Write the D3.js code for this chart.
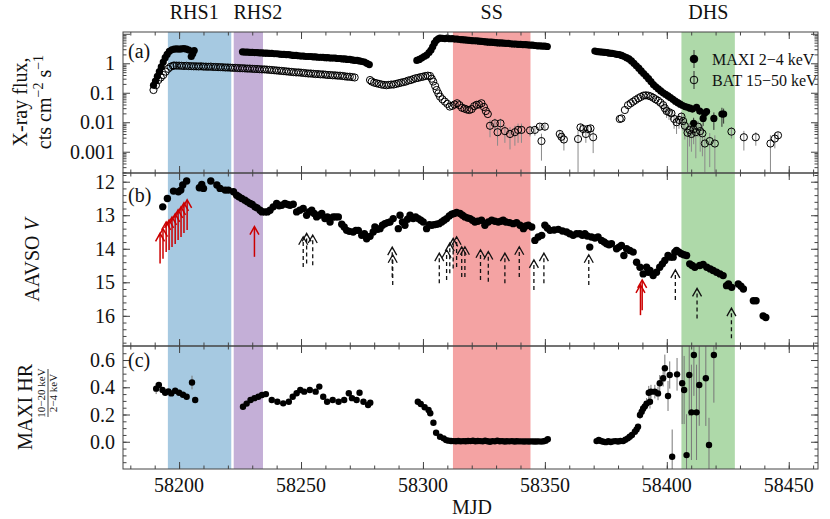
<!DOCTYPE html>
<html>
<head>
<meta charset="utf-8">
<script src="https://cdn.jsdelivr.net/npm/d3@7"></script>
<style>
  body { margin: 0; background: #fff; }
  text { fill: #111; }
</style>
</head>
<body>
<script>
// ---- 数据 ----
// 状态区间
const stateNames = ['RHS1', 'RHS2', 'SS', 'DHS'];
const stateSpans = [[58195.4, 58221.4], [58222.4, 58234.4], [58312.3, 58344.1], [58406.0, 58427.9]];
const stateColors = ['#a6c9e1', '#c4afd7', '#f4a3a3', '#aed9a9'];
const stateLabelMJD = [58206.2, 58232.3, 58328.2, 58417.0];

// MAXI 2-4 keV [MJD, flux, err]
const maxiFlux = [
  [58189.5,0.18],[58190.3,0.25],[58191.1,0.36],[58191.9,0.52],[58192.7,0.75],[58193.5,1.1],[58194.3,1.55],
  [58195.1,2.0],[58196,2.55],[58197,2.85],[58198,3.0],[58199,3.1],[58200,3.0],[58201,3.1],[58202,3.15],
  [58203,3.0],[58204,2.8],[58205,1.7],[58205.6,2.1],[58206.2,2.7],
  [58226,2.45],[58227,2.4],[58228,2.4],[58229,2.35],[58230,2.35],[58231,2.3],[58232,2.3],[58233,2.25],
  [58234,2.25],[58235,2.2],[58236,2.2],[58237,2.15],[58238,2.15],[58239,2.1],[58240,2.1],[58241,2.05],
  [58242,2.0],[58243,2.0],[58244,1.95],[58245,1.95],[58246,1.9],[58247,1.85],[58248,1.85],[58249,1.8],
  [58250,1.75],[58251,1.75],[58252,1.7],[58253,1.7],[58254,1.7],[58255,1.65],[58256,1.65],[58257,1.6],
  [58258,1.6],[58259,1.6],[58260,1.55],[58261,1.55],[58262,1.5],[58263,1.5],[58264,1.5],[58265,1.45],
  [58266,1.45],[58267,1.4],[58268,1.4],[58269,1.35],[58270,1.35],[58271,1.3],[58272,1.25],[58273,1.25],
  [58274,1.2],[58275,1.15],[58276,1.1],[58277,1.0],[58278,0.9],
  [58297.5,1.25],[58298.5,1.35],[58299.5,1.5],[58300.5,1.7],[58301.5,1.9],[58302.5,2.3],[58303.3,2.8],
  [58304,3.6],[58304.7,4.8],[58305.5,6.0],[58306.3,6.8],[58307,7.2],[58308,7.0],[58309,6.9],[58310,7.1],
  [58311,6.8],[58312,6.9],[58313,6.6],[58314,6.6],[58315,6.4],[58316,6.3],[58317,6.2],[58318,6.1],
  [58319,6.0],[58320,5.9],[58321,5.8],[58322,5.8],[58323,5.6],[58324,5.5],[58325,5.4],[58326,5.3],
  [58327,5.2],[58328,5.2],[58329,5.1],[58330,5.0],[58331,4.9],[58332,4.9],[58333,4.8],[58334,4.7],
  [58335,4.7],[58336,4.6],[58337,4.5],[58338,4.5],[58339,4.4],[58340,4.4],[58341,4.3],[58342,4.3],
  [58343,4.2],[58344,4.1],[58345,4.1],[58346,4.0],[58347,3.9],[58348,3.9],[58349,3.8],[58350,3.8],[58351,3.7],
  [58370.5,2.6],[58371.5,2.5],[58372.5,2.45],[58373.5,2.4],[58374.5,2.35],[58375.5,2.3],[58376.5,2.2],
  [58377.5,2.15],[58378.5,2.1],[58379.5,2.0],[58380.5,1.95],[58381.5,1.85],[58382.5,1.7],[58383.5,1.55],
  [58384.5,1.4],[58385.5,1.2],[58386.5,1.0],[58387.5,0.82],[58388.5,0.68],[58389.5,0.55],[58390.5,0.45],
  [58391.5,0.37],[58392.5,0.3],[58393.5,0.24],[58394.5,0.19],[58395.5,0.16],[58396.5,0.135],[58397.5,0.115],
  [58398.5,0.1],[58399.5,0.088],[58400.5,0.078],[58401.5,0.068],[58402.5,0.06],[58403.5,0.052],
  [58404.5,0.046],[58405.5,0.041],[58406.5,0.037],[58407.5,0.034],[58408.5,0.032],[58409.5,0.03],
  [58410.5,0.028],[58411,0.0092,0.005],[58412.2,0.032,0.006],[58413.5,0.024,0.006],[58414.9,0.0135,0.006],
  [58415.5,0.020,0.006],[58416.3,0.023,0.007],[58419.3,0.0135,0.008],[58422.6,0.019,0.012],[58423.3,0.019,0.01]
];

// BAT 15-50 keV [MJD, flux, err]
const batFlux = [
  [58189.5,0.124],[58190.5,0.18],[58191.5,0.27],[58192.5,0.33],[58193.5,0.4],[58194.5,0.52],[58195.5,0.65],
  [58196.5,0.76],[58197.5,0.82],[58198,0.84],[58199,0.83],[58200,0.83],[58201,0.82],[58202,0.81],
  [58203,0.82],[58204,0.8],[58205,0.8],[58206,0.79],[58207,0.79],[58208,0.78],[58209,0.79],[58210,0.77],
  [58211,0.77],[58212,0.76],[58213,0.77],[58214,0.75],[58215,0.75],[58216,0.74],[58217,0.74],[58218,0.73],
  [58219,0.72],[58220,0.72],[58221,0.71],[58222,0.7],[58223,0.7],[58224,0.69],[58225,0.68],[58226,0.68],
  [58227,0.67],[58228,0.66],[58229,0.66],[58230,0.65],[58231,0.64],[58232,0.64],[58233,0.63],[58234,0.62],
  [58235,0.62],[58236,0.61],[58237,0.6],[58238,0.59],[58239,0.58],[58240,0.57],[58241,0.56],[58242,0.55],
  [58243,0.54],[58244,0.53],[58245,0.52],[58246,0.51],[58247,0.5],[58248,0.49],[58249,0.49],[58250,0.48],
  [58251,0.47],[58252,0.46],[58253,0.45],[58254,0.45],[58255,0.44],[58256,0.43],[58257,0.43],[58258,0.42],
  [58259,0.42],[58260,0.41],[58261,0.4],[58262,0.4],[58263,0.39],[58264,0.39],[58265,0.38],[58266,0.38],
  [58267,0.37],[58268,0.36],[58269,0.35],[58270,0.35],[58271,0.34],[58272,0.33],
  [58278.3,0.27],[58279,0.24],[58280,0.22],[58281,0.21],[58282,0.2],[58283,0.19],[58284,0.185],[58285,0.18],
  [58286,0.185],[58287,0.19],[58288,0.19],[58289,0.2],[58290,0.21],[58291,0.22],[58292,0.23],[58293,0.24],
  [58294,0.26],[58295,0.27],[58296,0.29],[58297,0.31],[58298,0.32],[58299,0.34],[58300,0.35],[58301,0.37],
  [58302,0.38],[58302.9,0.37],[58303.6,0.3],[58304.2,0.24],[58305,0.17],[58305.6,0.124],[58306.3,0.095],
  [58307,0.074],[58308,0.06],[58309,0.05],[58310,0.042],[58311,0.034],[58312,0.036],[58313,0.04],
  [58314,0.044],[58315,0.038],[58316,0.031],[58317,0.029],[58318,0.027],[58319,0.026],[58320,0.028],
  [58321,0.035],[58322,0.039],[58323,0.04],[58324,0.044],[58325,0.033],[58325.8,0.024],[58326.6,0.019],
  [58327.5,0.0076,0.0045],[58329.5,0.0092,0.004],[58330.6,0.0046,0.003],[58331.8,0.0092,0.004],
  [58333.6,0.005,0.003],[58335.7,0.004,0.0028],[58337.7,0.0046,0.003],[58339,0.0055,0.0035],
  [58340.4,0.0055,0.0035],[58343.9,0.0053,0.002],[58345.9,0.0055,0.002],[58347.9,0.0071,0.002],
  [58348.6,0.0023,0.0018],[58350,0.0071,0.002],[58356.1,0.004,0.0015],[58356.8,0.0032,0.0012],
  [58357.8,0.0026,0.0015],[58363.6,0.0027,0.0025],[58364.6,0.0067,0.002],[58365.7,0.0059,0.002],
  [58366.8,0.004,0.002],[58367.7,0.0059,0.002],[58368.7,0.0062,0.002],[58369.8,0.0031,0.0022],
  [58380.7,0.0129],[58381.4,0.0135],[58382.8,0.026],[58384.1,0.038],[58385.2,0.044],[58386.2,0.05],
  [58387.2,0.057],[58388.3,0.065],[58389.3,0.072],[58390.4,0.08],[58391.4,0.082],[58392.4,0.08],
  [58393.4,0.075],[58394.4,0.068],[58395.4,0.06],[58396.4,0.054],[58397.4,0.046],[58398.5,0.038,0.01],
  [58399.2,0.03,0.01],[58399.9,0.024,0.01],[58400.9,0.022,0.01],[58401.9,0.020,0.008],[58403,0.013,0.007],
  [58404,0.010,0.006],[58405,0.012,0.006],[58406,0.0155,0.006],[58406.7,0.011,0.006],[58407.4,0.0076,0.005],
  [58408.5,0.0044,0.0042],[58409.3,0.0055,0.004],[58410.1,0.004,0.003],[58411,0.0058,0.004],
  [58411.9,0.0046,0.004],[58412.8,0.0071,0.004],[58413.7,0.005,0.004],[58414.6,0.0042,0.0035],
  [58415.6,0.0019,0.0017],[58417.6,0.0023,0.002],[58419.7,0.0019,0.0017],[58426.5,0.0048,0.002],
  [58431.6,0.0031,0.002],[58436.5,0.0031,0.0015],[58442.5,0.0019,0.0017],[58444.3,0.0028,0.0015],
  [58445.6,0.0036,0.001]
];

// AAVSO V 星等 [MJD, mag]
const aavsoV = [
  [58193.3,12.75],[58195.2,12.5],[58197.7,12.28],[58199.7,12.3],[58200.7,12.25],[58201.5,12.1],[58203.1,11.98],
  [58208.3,12.18],[58209.3,12.08],[58210,12.2],[58213,11.98],[58215.5,12.1],[58216.8,12.2],[58218.9,12.25],
  [58220.2,12.25],[58222.3,12.3],[58223.6,12.4],[58224.5,12.45],[58225.7,12.5],[58227,12.55],[58228,12.6],
  [58229.1,12.65],[58230,12.68],[58231.1,12.75],[58232,12.78],[58233.2,12.85],[58234,12.9],[58235.2,12.9],
  [58236.2,12.9],[58237.3,12.85],[58238.6,12.75],[58240,12.65],[58241,12.72],[58242.1,12.7],[58243.4,12.65],
  [58244.5,12.68],[58245.5,12.7],[58246.8,12.67],[58248.2,12.9],[58249.5,12.85],[58250.9,12.8],[58252.3,13.0],
  [58253.3,12.9],[58254.4,12.85],[58255.4,12.95],[58256.4,13.05],[58257.5,13.0],[58258.5,12.95],[58259.8,13.1],
  [58260.8,13.05],[58261.9,13.2],[58263.2,13.05],[58264.2,13.05],[58265.3,13.05],[58266.7,13.27],[58267.7,13.35],
  [58268.7,13.45],[58269.8,13.48],[58271.4,13.5],[58272.5,13.45],[58273.5,13.45],[58274.9,13.6],[58276,13.55],
  [58276.9,13.7],[58278.3,13.63],[58279.6,13.5],[58280.3,13.35],[58281.4,13.42],[58282.4,13.4],[58283.4,13.3],
  [58284.4,13.25],[58285.5,13.22],[58286.5,13.2],[58287.8,13.1],[58289.9,13.4],[58290.6,13.0],[58291.6,13.2],
  [58292.6,13.3],[58293.7,13.12],[58294.7,13.0],[58296,13.1],[58297,13.05],[58298.1,13.1],[58299.1,13.15],
  [58300.1,13.2],[58301.5,13.4],[58302.6,13.28],[58303.6,13.3],[58304.6,13.28],[58305.6,13.27],[58306.6,13.25],
  [58307.7,13.2],[58308.7,13.15],[58309.7,13.1],[58310.8,13.02],[58311.8,12.97],[58312.8,12.95],[58313.8,12.92],
  [58315.2,12.95],[58316.2,13.0],[58317.2,13.05],[58318.3,13.08],[58319.3,13.1],[58320.3,13.15],[58321.3,13.2],
  [58322.5,13.18],[58324,13.15],[58325.4,13.3],[58326.8,13.2],[58328.2,13.15],[58329.5,13.18],[58330.9,13.2],
  [58332,13.18],[58332.9,13.15],[58334,13.2],[58335.5,13.22],[58337,13.25],[58338.4,13.22],[58339.8,13.3],
  [58341.2,13.4],[58342.2,13.32],[58343.2,13.3],[58344.6,13.35],[58345.9,13.75],[58347.3,13.65],[58348.7,13.6],
  [58350,13.3],[58351,13.38],[58352.1,13.45],[58353.8,13.44],[58355.5,13.42],[58357.2,13.47],[58358.9,13.5],
  [58360.2,13.55],[58361.6,13.6],[58363,13.55],[58364.3,13.55],[58365.4,13.6],[58366.4,13.55],[58367.4,13.62],
  [58368.4,13.95],[58369.1,13.65],[58370.5,13.68],[58371.8,13.65],[58373.2,13.75],[58374.3,13.8],[58375.3,13.85],
  [58376.3,13.88],[58377.3,13.85],[58379.4,14.0],[58380.4,13.95],[58381.4,13.9],[58382.4,14.2],[58383.5,14.0],
  [58384.8,14.05],[58386.2,14.1],[58387.6,14.4],[58389,14.55],[58390.3,14.75],[58391.7,14.55],[58392.4,14.7],
  [58393.1,14.65],[58394.4,14.8],[58395.8,14.7],[58397.1,14.55],[58398.2,14.45],[58399.2,14.35],[58400.5,14.2],
  [58401.5,14.25],[58402.6,14.25],[58403.3,14.1],[58404,14.05],[58405,14.1],[58406,14.15],[58407,14.18],
  [58408.1,14.2],[58409.4,14.45],[58410.4,14.5],[58411.5,14.55],[58413.5,14.5],[58414.9,14.47],[58416.4,14.55],
  [58417.8,14.6],[58419,14.65],[58420.4,14.7],[58421.8,14.75],[58423.1,14.8],[58424.5,15.1],[58425.3,15.05],
  [58426.6,15.15],[58429.3,15.05],[58430.4,15.12],[58431.4,15.2],[58435.5,15.55],[58436.6,15.55],
  [58439.5,16.0],[58440.6,16.05]
];

// 上限（箭头尾部星等）
const redLimits = [
  [58192.2,14.44],[58193.4,14.3],[58194.7,14.1],[58195.9,14.04],[58197.1,13.95],[58198.4,13.86],
  [58199.6,13.74],[58200.8,13.65],[58202,13.53],[58203.3,13.44],[58230.9,14.24],[58389.2,15.98],[58389.9,15.83]
];
const blackLimits = [
  [58250.9,14.54],[58252.3,14.44],[58254.8,14.49],[58287.4,14.85],[58287.6,15.08],[58306.7,15.03],
  [58309.7,14.93],[58311,14.73],[58312.4,14.59],[58313.8,14.54],[58315.9,14.84],[58317.2,14.84],
  [58323.6,14.93],[58326.8,14.98],[58333.6,15.03],[58339.5,14.84],[58345.5,15.23],[58349.6,15.03],
  [58368,15.08],[58403.5,15.53],[58412.4,16.08],[58426.5,16.67]
];

// MAXI 硬度比 [MJD, HR, err]
const maxiHR = [
  [58190.6,0.39,0.04],[58191.7,0.417],[58193.2,0.38],[58194.3,0.36],[58195.6,0.37],[58196.8,0.355],
  [58198.4,0.375],[58200,0.36],[58201.6,0.345],[58203.1,0.33],[58205.3,0.435,0.05],[58206.6,0.307],
  [58226.2,0.257],[58227.7,0.28],[58229.3,0.307],[58230.9,0.32],[58232.5,0.33],[58234,0.343],[58235.6,0.35],
  [58238,0.307],[58240.3,0.294],[58242.7,0.282],[58245,0.294],[58246.6,0.33],[58248.2,0.356],[58249.7,0.38],
  [58251.3,0.368],[58253.6,0.38],[58256,0.368],[58257.5,0.405],[58259.1,0.33],[58260.7,0.294],[58263,0.307],
  [58265.4,0.294],[58267.7,0.307],[58269.6,0.356],[58270.9,0.32],[58272.8,0.307],[58274,0.36],[58275.6,0.294],
  [58277.5,0.27],[58278.4,0.287],
  [58297.9,0.294],[58299.1,0.277],[58300.7,0.253],[58302.3,0.233],[58303,0.209],[58304.3,0.14],[58305.4,0.066],
  [58307,0.037],[58308.5,0.025],[58309.5,0.012],[58310.5,0.008],[58311.5,0.006],[58312.5,0.005],[58313.5,0.004],
  [58314.5,0.006],[58315.5,0.003],[58316.5,0.005],[58317.5,0.004],[58318.5,0.006],[58319.5,0.005],[58320.5,0.007],
  [58321.5,0.004],[58322.5,0.006],[58323.5,0.005],[58324.5,0.003],[58325.5,0.007],[58326.5,0.004],[58327.5,0.0],
  [58328.5,0.005],[58329.5,0.003],[58330.5,0.008],[58331.5,0.004],[58332.5,0.005],[58333.5,0.002],[58334.5,0.004],
  [58335.5,0.003],[58336.5,0.005],[58337.5,0.002],[58338.5,0.004],[58339.5,0.003],[58340.5,0.003],[58341.5,0.002],
  [58342.5,0.003],[58343.5,0.002],[58344.5,0.003],[58345.5,0.002],[58346.5,0.002],[58347.5,0.003],[58348.5,0.001],
  [58349.5,0.004],[58350.3,0.008],[58351.2,0.018],
  [58371.2,0.005],[58372.1,0.013],[58373,0.006],[58374,0.0],[58375,-0.003],[58376,0.004],[58377,-0.002],
  [58378,0.003],[58379,0.005],[58380,0.002],[58381,0.006],[58382.1,0.005],[58383,0.015],[58384,0.025],
  [58384.8,0.037],[58385.7,0.05],[58386.9,0.074],[58387.6,0.09],[58388.2,0.11],[58389,0.196,0.03],
  [58389.7,0.22,0.03],[58390.3,0.245,0.03],[58391,0.26,0.04],[58391.7,0.28,0.04],[58393.1,0.294,0.05],
  [58392.6,0.36,0.05],[58393.5,0.368,0.05],[58395.1,0.368,0.05],[58396.4,0.355,0.05],[58397.1,0.43,0.06],
  [58398.5,0.466,0.06],[58399.2,0.54,0.1],[58400.5,0.336,0.11],[58401.2,0.49,0.1],[58402.2,-0.11,0.2],
  [58404.2,0.495,0.12],[58406.3,0.43,0.3],[58407.1,0.38,0.25],[58408.1,-0.098,0.3],[58409.2,0.49,0.3],
  [58410.1,0.216,0.35],[58411.1,0.637,0.3],[58412.2,0.216,0.35],[58413.3,0.417,0.3],[58416,0.466,0.35],
  [58417.3,-0.024,0.2],[58419.3,0.637,0.35]
];

// 刻度
const xMajorTicks = [58200, 58250, 58300, 58350, 58400, 58450];
const fluxTicks = [0.001, 0.01, 0.1, 1, 10];
const fluxTickLabels = ['0.001', '0.01', '0.1', '1', ''];
const magTicks = [12, 13, 14, 15, 16];
const hrTicks = [0.0, 0.2, 0.4, 0.6];

// ---- 画布 ----
const W = 830, H = 519;
const svg = d3.select('body').append('svg').attr('width', W).attr('height', H)
  .attr('font-family', '"Liberation Serif", "DejaVu Serif", serif');

const x = d3.scaleLinear().domain([58177, 58462]).range([123, 818]);
const panels = [
  {name: 'a', top: 32, bottom: 173, y: d3.scaleLog().domain([1.9e-4, 11.5]).range([173, 32])},
  {name: 'b', top: 173, bottom: 346, y: d3.scaleLinear().domain([11.74, 16.9]).range([173, 346])},
  {name: 'c', top: 346, bottom: 469, y: d3.scaleLinear().domain([0.703, -0.2]).range([346, 469])}
];
const [pA, pB, pC] = panels;
const left = 123, right = 818;

const defs = svg.append('defs');
panels.forEach(p => {
  defs.append('clipPath').attr('id', `clip-${p.name}`)
    .append('rect').attr('x', left).attr('y', p.top).attr('width', right - left).attr('height', p.bottom - p.top);
  p.g = svg.append('g').attr('clip-path', `url(#clip-${p.name})`);
});

// 状态色带
panels.forEach(p => {
  p.g.selectAll('rect.band').data(stateSpans).enter().append('rect')
    .attr('x', d => x(d[0])).attr('width', d => x(d[1]) - x(d[0]))
    .attr('y', p.top).attr('height', p.bottom - p.top)
    .attr('fill', (d, i) => stateColors[i]);
});
svg.selectAll('text.state').data(stateNames).enter().append('text')
  .attr('x', (d, i) => x(stateLabelMJD[i])).attr('y', 19)
  .attr('text-anchor', 'middle').style('font-size', '20px').text(d => d);

// 误差棒
function errBars(g, data, yS, color, width) {
  g.append('g').selectAll('line').data(data.filter(d => d[2])).enter().append('line')
    .attr('x1', d => x(d[0])).attr('x2', d => x(d[0]))
    .attr('y1', d => yS(d[1] + d[2]))
    .attr('y2', d => {
      let lo = d[1] - d[2];
      if (yS === pA.y && lo <= 1.9e-4) return pA.bottom + 5;
      return yS(lo);
    })
    .attr('stroke', color).attr('stroke-width', width);
}

// (a) X 射线流量
errBars(pA.g, batFlux, pA.y, '#8a8a8a', 1);
errBars(pA.g, maxiFlux, pA.y, '#333', 1);
pA.g.append('g').selectAll('circle').data(batFlux).enter().append('circle')
  .attr('cx', d => x(d[0])).attr('cy', d => pA.y(d[1])).attr('r', 3.6)
  .attr('fill', 'none').attr('stroke', '#000').attr('stroke-width', 1);
pA.g.append('g').selectAll('circle').data(maxiFlux).enter().append('circle')
  .attr('cx', d => x(d[0])).attr('cy', d => pA.y(d[1])).attr('r', 3.6).attr('fill', '#000');

// 图例
const legend = svg.append('g');
[['MAXI 2\u22124 keV', 59, '#000'], ['BAT 15\u221250 keV', 80, 'none']].forEach(([label, cy, fill]) => {
  legend.append('line').attr('x1', 694).attr('x2', 694).attr('y1', cy - 9).attr('y2', cy + 9)
    .attr('stroke', '#333').attr('stroke-width', 1);
  legend.append('circle').attr('cx', 694).attr('cy', cy).attr('r', 3.8)
    .attr('fill', fill).attr('stroke', '#000').attr('stroke-width', 1);
  legend.append('text').attr('x', 712).attr('y', cy + 5.5).style('font-size', '16px').text(label);
});

// (b) AAVSO V
function drawArrows(g, data, color, dashed) {
  const yS = pB.y;
  const grp = g.append('g').attr('stroke', color).attr('fill', 'none').attr('stroke-width', dashed ? 1.3 : 1.5);
  data.forEach(d => {
    const xs = x(d[0]), y0 = yS(d[1]), y1 = yS(d[1] - 0.9);
    grp.append('line').attr('x1', xs).attr('x2', xs).attr('y1', y0).attr('y2', y1 + 1)
      .attr('stroke-dasharray', dashed ? '4,3' : null);
    grp.append('path').attr('d', `M${xs - 4.5},${y1 + 8} L${xs},${y1} L${xs + 4.5},${y1 + 8}`);
  });
}
drawArrows(pB.g, blackLimits, '#111', true);
drawArrows(pB.g, redLimits, '#cc0000', false);
pB.g.append('g').selectAll('circle').data(aavsoV).enter().append('circle')
  .attr('cx', d => x(d[0])).attr('cy', d => pB.y(d[1])).attr('r', 3.7).attr('fill', '#000');

// (c) 硬度比
errBars(pC.g, maxiHR, pC.y, '#777', 1);
pC.g.append('g').selectAll('circle').data(maxiHR).enter().append('circle')
  .attr('cx', d => x(d[0])).attr('cy', d => pC.y(d[1])).attr('r', 3.2).attr('fill', '#000');

// ---- 坐标轴 ----
const axisColor = '#444';
function styleAxis(sel) {
  sel.select('.domain').remove();
  sel.selectAll('line').attr('stroke', axisColor);
  sel.selectAll('text').remove();
}
const xMinor = d3.range(58180, 58461, 10);

panels.forEach(p => {
  [[d3.axisBottom, p.bottom], [d3.axisTop, p.top]].forEach(([ax, yPos]) => {
    svg.append('g').attr('transform', `translate(0,${yPos})`)
      .call(ax(x).tickValues(xMinor).tickSize(-3.5)).call(styleAxis);
    svg.append('g').attr('transform', `translate(0,${yPos})`)
      .call(ax(x).tickValues(xMajorTicks).tickSize(-7)).call(styleAxis);
  });
});

const logMinor = [];
[1e-4, 1e-3, 1e-2, 1e-1, 1].forEach(dec => [2, 3, 4, 5, 6, 7, 8, 9].forEach(k => logMinor.push(dec * k)));
const yTickSets = [
  [pA, fluxTicks, logMinor.filter(v => v > 1.9e-4 && v < 11.5)],
  [pB, magTicks, d3.range(11.8, 16.9, 0.2)],
  [pC, hrTicks, d3.range(-0.15, 0.7, 0.05)]
];
yTickSets.forEach(([p, major, minor]) => {
  [[d3.axisLeft, left], [d3.axisRight, right]].forEach(([ax, xPos]) => {
    svg.append('g').attr('transform', `translate(${xPos},0)`)
      .call(ax(p.y).tickValues(minor).tickSize(-3.5)).call(styleAxis);
    svg.append('g').attr('transform', `translate(${xPos},0)`)
      .call(ax(p.y).tickValues(major).tickSize(-7)).call(styleAxis);
  });
});

// 刻度标签
svg.append('g').selectAll('text').data(fluxTicks).enter().append('text')
  .attr('x', 115).attr('y', d => pA.y(d) + 7).attr('text-anchor', 'end').style('font-size', '20px')
  .text((d, i) => fluxTickLabels[i]);
svg.append('g').selectAll('text').data(magTicks).enter().append('text')
  .attr('x', 115).attr('y', d => pB.y(d) + 7).attr('text-anchor', 'end').style('font-size', '20px')
  .text(d => d);
svg.append('g').selectAll('text').data(hrTicks).enter().append('text')
  .attr('x', 115).attr('y', d => pC.y(d) + 7).attr('text-anchor', 'end').style('font-size', '20px')
  .text(d => d3.format('.1f')(d));
svg.append('g').selectAll('text').data(xMajorTicks).enter().append('text')
  .attr('x', d => x(d)).attr('y', 492).attr('text-anchor', 'middle').style('font-size', '20px')
  .text(d => d);
svg.append('text').attr('x', 472).attr('y', 514).attr('text-anchor', 'middle')
  .style('font-size', '20px').text('MJD');

// 边框
panels.forEach(p => {
  svg.append('rect').attr('x', left).attr('y', p.top).attr('width', right - left).attr('height', p.bottom - p.top)
    .attr('fill', 'none').attr('stroke', axisColor).attr('stroke-width', 1);
});

// 面板标签
[['(a)', 58], ['(b)', 202], ['(c)', 367]].forEach(([t, yy]) => {
  svg.append('text').attr('x', 128).attr('y', yy).style('font-size', '20px').text(t);
});

// y 轴标题
svg.append('text').attr('transform', 'translate(27,102) rotate(-90)')
  .attr('text-anchor', 'middle').style('font-size', '20px').text('X-ray flux,');
const yt2 = svg.append('text').attr('transform', 'translate(51,102) rotate(-90)')
  .attr('text-anchor', 'middle').style('font-size', '20px');
yt2.append('tspan').text('cts cm');
yt2.append('tspan').attr('dy', -8).style('font-size', '14px').text('\u22122');
yt2.append('tspan').attr('dy', 8).text(' s');
yt2.append('tspan').attr('dy', -8).style('font-size', '14px').text('\u22121');

const yt3 = svg.append('text').attr('transform', 'translate(39,260) rotate(-90)')
  .attr('text-anchor', 'middle').style('font-size', '20px');
yt3.append('tspan').text('AAVSO ');
yt3.append('tspan').style('font-style', 'italic').text('V');

svg.append('text').attr('transform', 'translate(32,407) rotate(-90)')
  .attr('text-anchor', 'middle').style('font-size', '20px').text('MAXI HR');
const frac = svg.append('g').attr('transform', 'translate(48,393) rotate(-90)');
frac.append('text').attr('x', 0).attr('y', -3).attr('text-anchor', 'middle').style('font-size', '11px')
  .text('10\u221220 keV');
frac.append('line').attr('x1', -24).attr('x2', 24).attr('y1', 0).attr('y2', 0)
  .attr('stroke', '#111').attr('stroke-width', 0.8);
frac.append('text').attr('x', 0).attr('y', 9).attr('text-anchor', 'middle').style('font-size', '11px')
  .text('2\u22124 keV');
</script>
</body>
</html>
